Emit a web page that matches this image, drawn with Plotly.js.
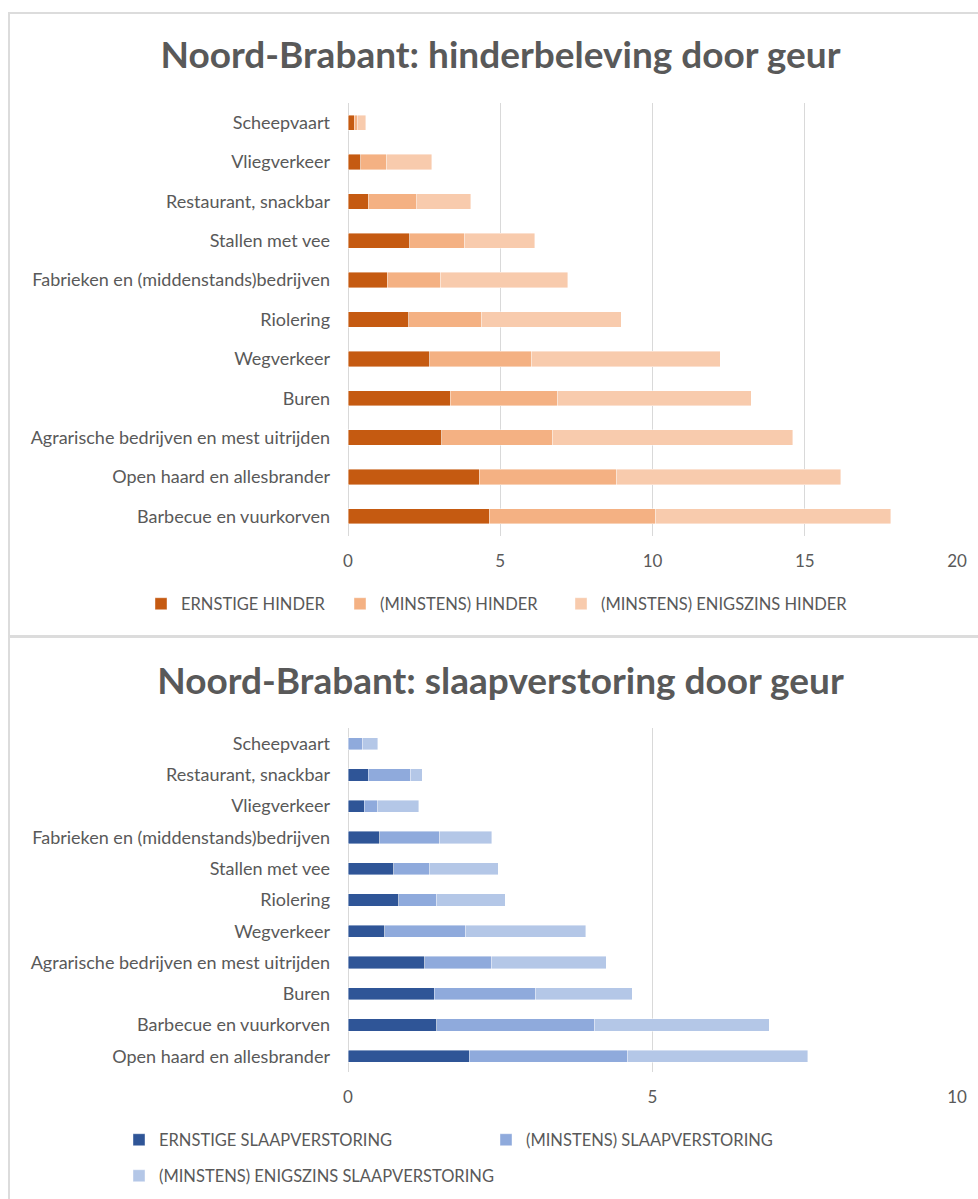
<!DOCTYPE html>
<html>
<head>
<meta charset="utf-8">
<script src="https://cdn.plot.ly/plotly-3.0.1.min.js"></script>
<style>
  html, body { margin: 0; padding: 0; background: #fff; }
  body { width: 978px; height: 1199px; position: relative; overflow: hidden; }
  .plot { position: absolute; left: 0; }
  .line { position: absolute; background: #dcdcdc; }
</style>
</head>
<body>
<div class="line" style="left:8px; top:12px; width:1.5px; height:1187px;"></div>
<div class="line" style="left:8px; top:12px; width:970px; height:1.5px;"></div>
<div class="line" style="left:8px; top:635px; width:970px; height:3px;"></div>
<div id="chart1" class="plot" style="top:0; width:978px; height:636px;"></div>
<div id="chart2" class="plot" style="top:636px; width:978px; height:563px;"></div>
<script>
// ---------- Data: hinderbeleving (top chart), listed top to bottom ----------
const hinderCategories = [
  "Scheepvaart",
  "Vliegverkeer",
  "Restaurant, snackbar",
  "Stallen met vee",
  "Fabrieken en (middenstands)bedrijven",
  "Riolering",
  "Wegverkeer",
  "Buren",
  "Agrarische bedrijven en mest uitrijden",
  "Open haard en allesbrander",
  "Barbecue en vuurkorven"
];
const ernstigeHinder   = [0.20, 0.42, 0.67, 2.02, 1.29, 1.99, 2.69, 3.35, 3.08, 4.31, 4.64];
const minstensHinder   = [0.11, 0.85, 1.57, 1.82, 1.75, 2.40, 3.34, 3.53, 3.65, 4.51, 5.46];
const enigszinsHinder  = [0.27, 1.48, 1.79, 2.29, 4.17, 4.59, 6.19, 6.36, 7.87, 7.36, 7.73];
const hinderNames = ["ERNSTIGE HINDER", "(MINSTENS) HINDER", "(MINSTENS) ENIGSZINS HINDER"];
const hinderTicks = [0, 5, 10, 15, 20];

// ---------- Data: slaapverstoring (bottom chart), listed top to bottom ----------
const slaapCategories = [
  "Scheepvaart",
  "Restaurant, snackbar",
  "Vliegverkeer",
  "Fabrieken en (middenstands)bedrijven",
  "Stallen met vee",
  "Riolering",
  "Wegverkeer",
  "Agrarische bedrijven en mest uitrijden",
  "Buren",
  "Barbecue en vuurkorven",
  "Open haard en allesbrander"
];
const ernstigeSlaap   = [0.00, 0.33, 0.27, 0.52, 0.75, 0.83, 0.60, 1.26, 1.42, 1.46, 1.99];
const minstensSlaap   = [0.24, 0.70, 0.21, 0.99, 0.58, 0.63, 1.33, 1.10, 1.66, 2.59, 2.60];
const enigszinsSlaap  = [0.25, 0.19, 0.68, 0.85, 1.14, 1.12, 1.97, 1.88, 1.59, 2.87, 2.96];
const slaapNames = ["ERNSTIGE SLAAPVERSTORING", "(MINSTENS) SLAAPVERSTORING", "(MINSTENS) ENIGSZINS SLAAPVERSTORING"];
const slaapTicks = [0, 5, 10];

// ---------- Styling ----------
const FONT = "Lato, 'Open Sans', sans-serif";
const GREY = "#595959";
const GRID = "#d9d9d9";
const orangeColors = ["#C55A11", "#F4B183", "#F8CBAD"];
const blueColors = ["#2F5597", "#8FAADC", "#B4C7E7"];

function barTrace(x, y, name, color, legend) {
  return {
    type: "bar", orientation: "h", x: x, y: y, name: name,
    marker: { color: color, line: { color: "rgba(255,255,255,0.55)", width: 0.75 } },
    hoverinfo: "x+y+name", legend: legend
  };
}

function axisX(ticks) {
  return {
    range: [0, ticks[ticks.length - 1]],
    tickvals: ticks, ticktext: ticks.map(String),
    showgrid: true, gridcolor: GRID, gridwidth: 1,
    zeroline: true, zerolinecolor: GRID, zerolinewidth: 1,
    showline: false, ticks: "", ticklabelstandoff: 13,
    tickfont: { family: FONT, size: 17, color: GREY },
    fixedrange: true
  };
}
function axisY(n) {
  return {
    type: "category", range: [n - 0.5, -0.5],
    showgrid: false, zeroline: false, showline: false, ticks: "",
    ticklabelstandoff: 17,
    tickfont: { family: FONT, size: 18, color: GREY },
    fixedrange: true
  };
}
function legendAt(xPx, yPx, H, top) {
  return {
    orientation: "h", xref: "container", yref: "container",
    x: xPx / 978, y: 1 - (yPx - top) / H, xanchor: "left", yanchor: "middle",
    traceorder: "normal",
    font: { family: FONT, size: 16.5, color: GREY },
    bgcolor: "rgba(0,0,0,0)", borderwidth: 0, itemclick: false, itemdoubleclick: false
  };
}

// ---------- Top chart ----------
const W = 978;
const H1 = 636;
const data1 = [
  barTrace(ernstigeHinder, hinderCategories, hinderNames[0], orangeColors[0], "legend"),
  barTrace(minstensHinder, hinderCategories, hinderNames[1], orangeColors[1], "legend2"),
  barTrace(enigszinsHinder, hinderCategories, hinderNames[2], orangeColors[2], "legend3")
];
const layout1 = {
  width: W, height: H1,
  margin: { l: 348, r: 21, t: 103.4, b: H1 - 535.6, pad: 0 },
  paper_bgcolor: "rgba(0,0,0,0)", plot_bgcolor: "rgba(0,0,0,0)",
  barmode: "stack", bargap: 0.61,
  title: {
    text: "<b>Noord-Brabant: hinderbeleving door geur</b>",
    font: { family: FONT, size: 37, color: GREY },
    xref: "container", yref: "container", x: 500.5 / W, y: 1 - 55 / H1,
    xanchor: "center", yanchor: "middle"
  },
  xaxis: axisX(hinderTicks),
  yaxis: axisY(hinderCategories.length),
  showlegend: true,
  legend: legendAt(141, 604, H1, 0),
  legend2: legendAt(340, 604, H1, 0),
  legend3: legendAt(561, 604, H1, 0)
};

// ---------- Bottom chart ----------
const H2 = 563;
const top2 = 636;
const data2 = [
  barTrace(ernstigeSlaap, slaapCategories, slaapNames[0], blueColors[0], "legend"),
  barTrace(minstensSlaap, slaapCategories, slaapNames[1], blueColors[1], "legend2"),
  barTrace(enigszinsSlaap, slaapCategories, slaapNames[2], blueColors[2], "legend3")
];
const layout2 = {
  width: W, height: H2,
  margin: { l: 348, r: 21, t: 728.4 - top2, b: H2 - (1072.3 - top2), pad: 0 },
  paper_bgcolor: "rgba(0,0,0,0)", plot_bgcolor: "rgba(0,0,0,0)",
  barmode: "stack", bargap: 0.61,
  title: {
    text: "<b>Noord-Brabant: slaapverstoring door geur</b>",
    font: { family: FONT, size: 37, color: GREY },
    xref: "container", yref: "container", x: 500.5 / W, y: 1 - (681 - top2) / H2,
    xanchor: "center", yanchor: "middle"
  },
  xaxis: axisX(slaapTicks),
  yaxis: axisY(slaapCategories.length),
  showlegend: true,
  legend: legendAt(119, 1140, H2, top2),
  legend2: legendAt(486, 1140, H2, top2),
  legend3: legendAt(119, 1176, H2, top2)
};

const config = { displayModeBar: false, responsive: false };
Plotly.newPlot("chart1", data1, layout1, config);
Plotly.newPlot("chart2", data2, layout2, config);
</script>
</body>
</html>
